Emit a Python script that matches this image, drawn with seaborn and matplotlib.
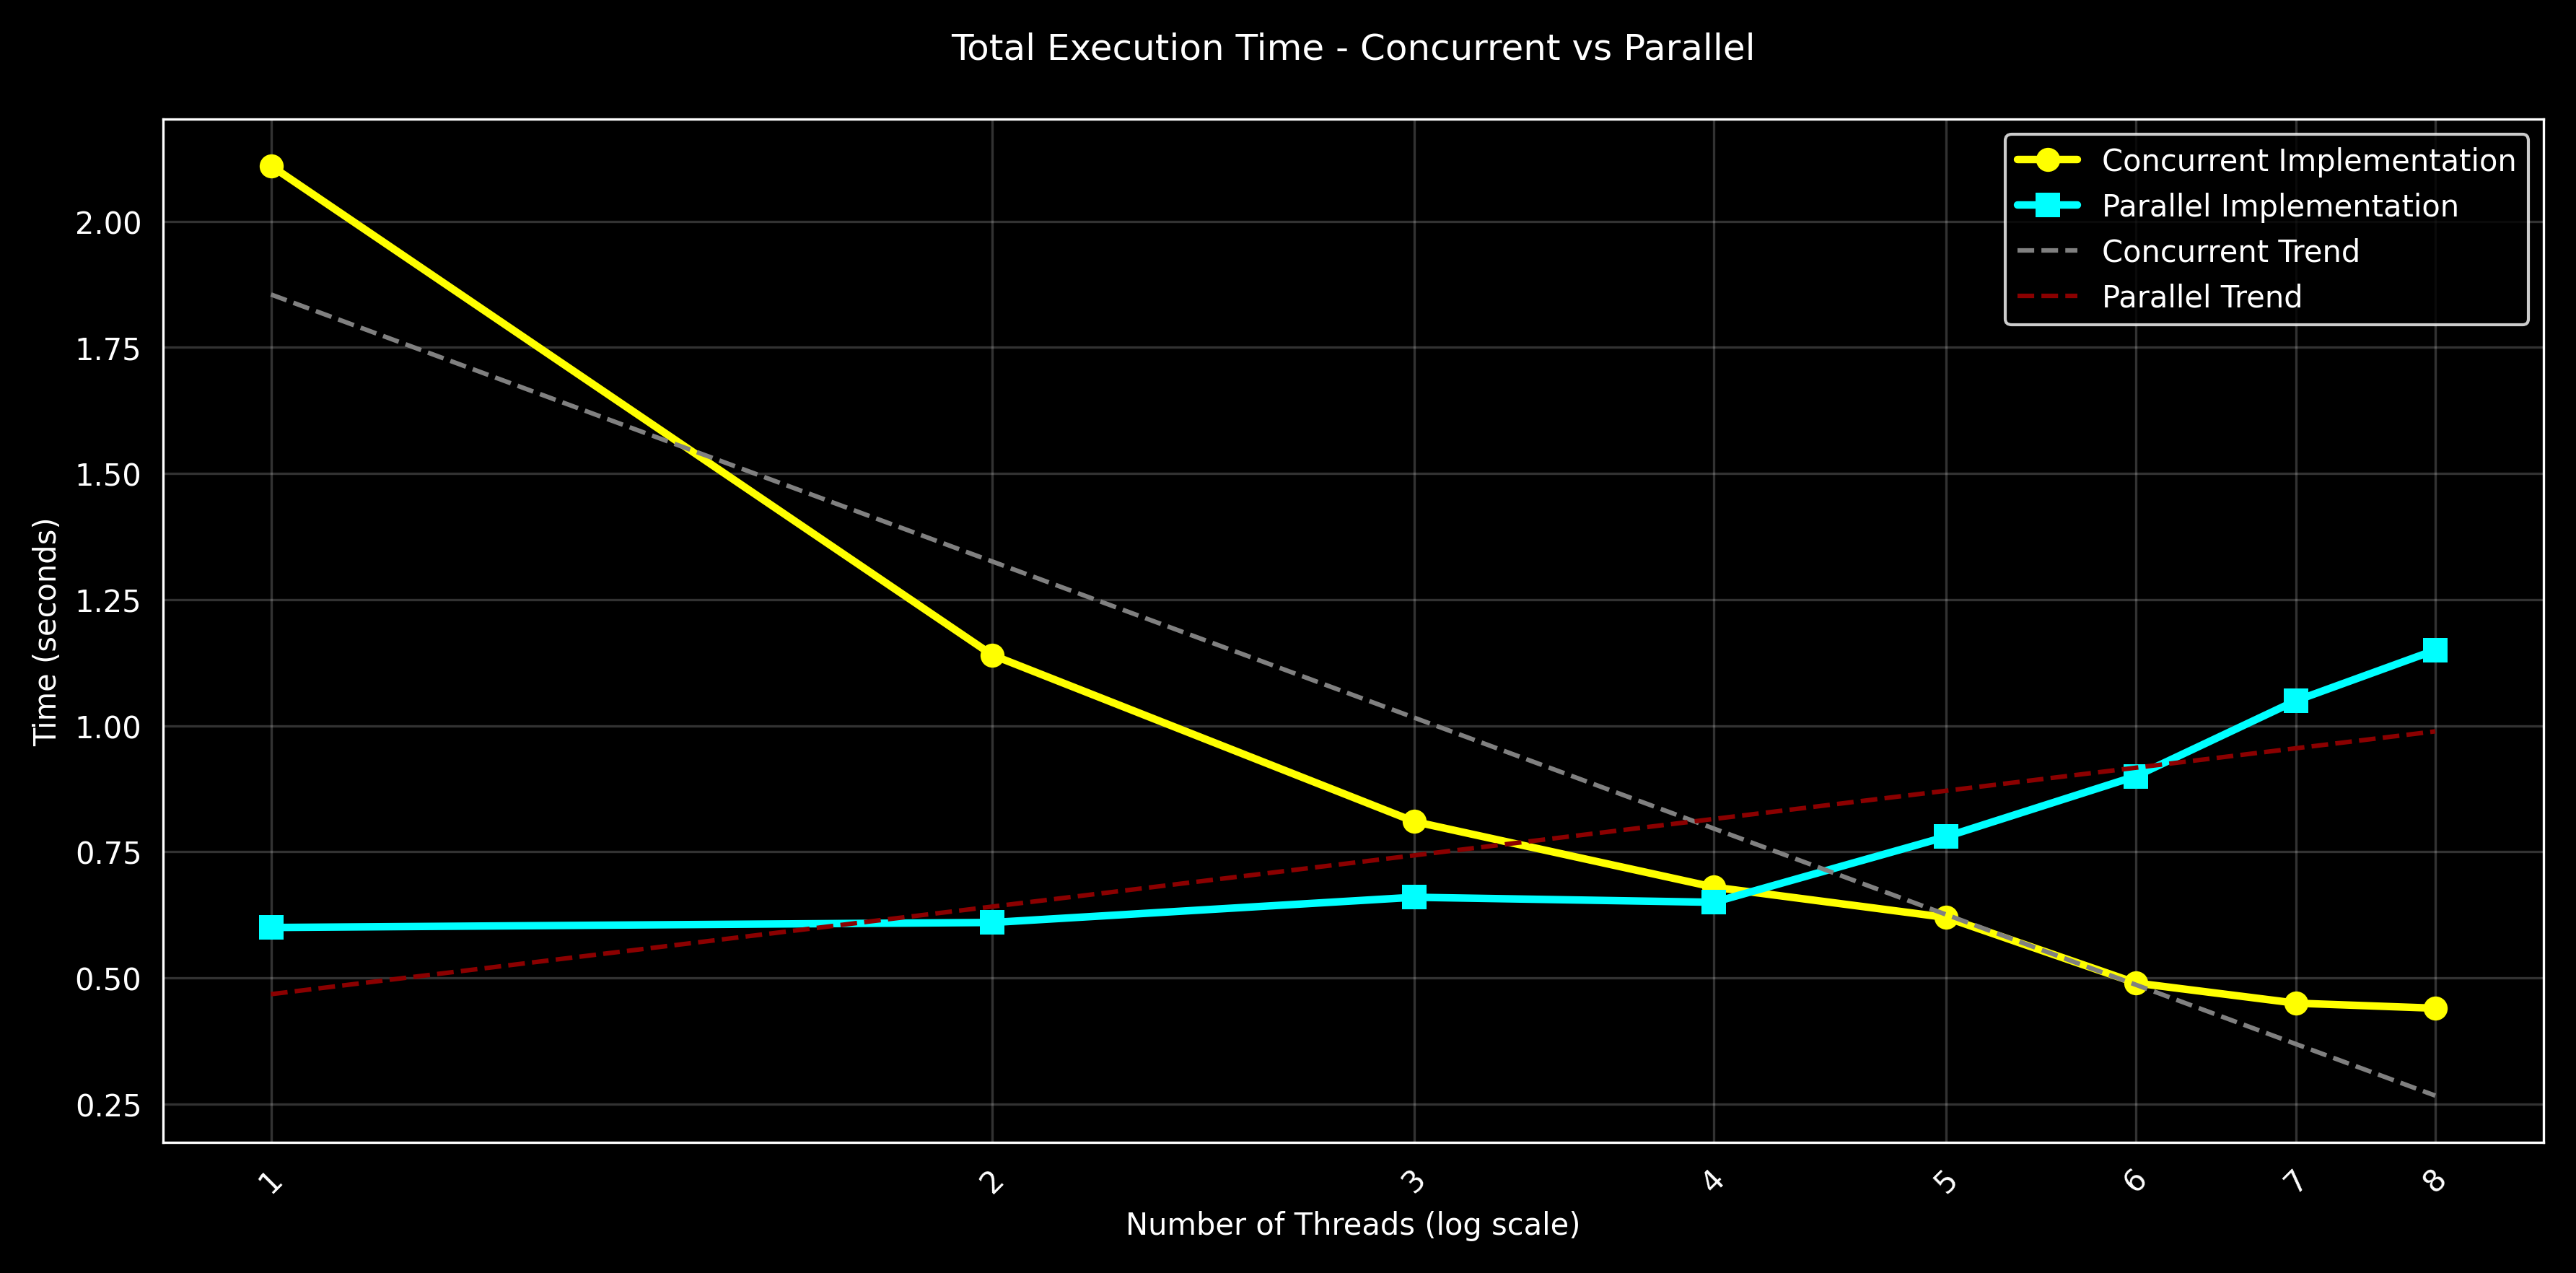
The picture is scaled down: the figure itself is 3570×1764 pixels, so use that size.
import numpy as np
import pandas as pd
import matplotlib
matplotlib.use('Agg')
import matplotlib.pyplot as plt
import seaborn as sns

threads = [1, 2, 3, 4, 5, 6, 7, 8]
concurrent_time = [2.11, 1.14, 0.81, 0.68, 0.62, 0.49, 0.45, 0.44]
parallel_time = [0.60, 0.61, 0.66, 0.65, 0.78, 0.90, 1.05, 1.15]

plt.style.use('dark_background')
sns.set_style('dark', {'axes.facecolor': 'black', 'figure.facecolor': 'black',
                       'axes.edgecolor': 'white', 'text.color': 'white',
                       'axes.labelcolor': 'white', 'xtick.color': 'white',
                       'ytick.color': 'white'})
plt.rcParams['font.family'] = ['DejaVu Sans']

df = pd.DataFrame({'threads': threads, 'concurrent': concurrent_time, 'parallel': parallel_time})

fig, ax = plt.subplots(figsize=(11.9, 5.8833), dpi=300)
sns.lineplot(data=df, x='threads', y='concurrent', ax=ax, color='yellow', marker='o',
             markersize=8, linewidth=2.5, label='Concurrent Implementation', markeredgewidth=0)
sns.lineplot(data=df, x='threads', y='parallel', ax=ax, color='cyan', marker='s',
             markersize=8, linewidth=2.5, label='Parallel Implementation', markeredgewidth=0)

lx = np.log(threads)
cfit = np.polyfit(lx, concurrent_time, 1)
pfit = np.polyfit(lx, parallel_time, 1)
ax.plot(threads, np.polyval(cfit, lx), '--', color='gray', label='Concurrent Trend')
ax.plot(threads, np.polyval(pfit, lx), '--', color='darkred', label='Parallel Trend')

ax.set_xscale('log')
ax.set_xticks(threads)
ax.set_xticklabels([str(t) for t in threads], rotation=45)
ax.minorticks_off()
ax.set_xlabel('Number of Threads (log scale)')
ax.set_ylabel('Time (seconds)')
ax.set_title('Total Execution Time - Concurrent vs Parallel', pad=20)
ax.grid(True, alpha=0.2, color='white')
for s in ax.spines.values():
    s.set_color('white')
ax.legend(loc='upper right', facecolor='black', edgecolor='white')
plt.tight_layout()
fig.savefig('out.png', dpi=300, facecolor='black')
